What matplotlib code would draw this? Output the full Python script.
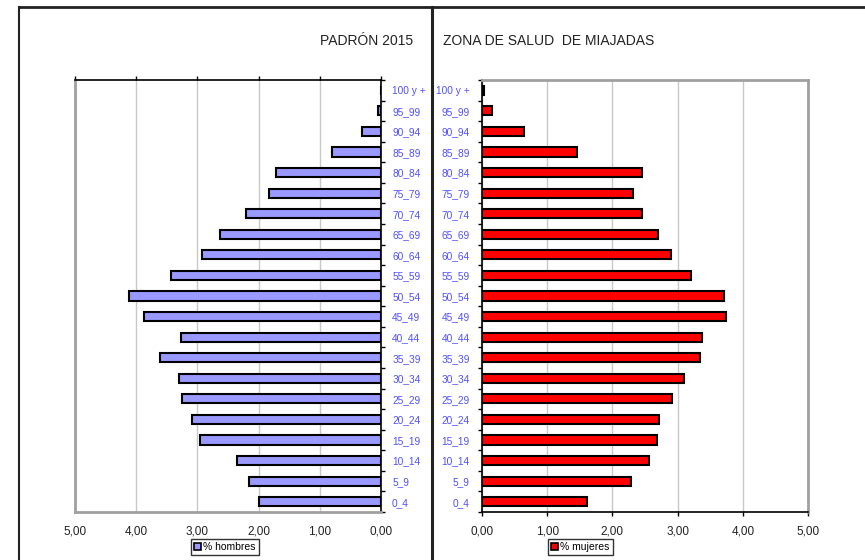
import numpy as np
import matplotlib.pyplot as plt
from matplotlib.patches import Patch
from matplotlib.ticker import FixedLocator, FuncFormatter

plt.rcParams['font.family'] = ['Liberation Sans', 'DejaVu Sans']

# Age groups, bottom to top
grupos = ["0_4", "5_9", "10_14", "15_19", "20_24", "25_29", "30_34", "35_39",
          "40_44", "45_49", "50_54", "55_59", "60_64", "65_69", "70_74",
          "75_79", "80_84", "85_89", "90_94", "95_99", "100 y +"]

# % of population
hombres = [2.00, 2.15, 2.35, 2.95, 3.09, 3.25, 3.30, 3.61, 3.27, 3.87, 4.11,
           3.43, 2.92, 2.63, 2.21, 1.83, 1.72, 0.80, 0.31, 0.05, 0.00]
mujeres = [1.61, 2.29, 2.56, 2.68, 2.72, 2.91, 3.10, 3.35, 3.38, 3.74, 3.71,
           3.20, 2.90, 2.70, 2.46, 2.32, 2.45, 1.45, 0.65, 0.16, 0.03]

x_ticks = [0, 1, 2, 3, 4, 5]

W, H = 865, 560
fig = plt.figure(figsize=(W / 100, H / 100), dpi=100)

def fx(px):
    return px / W

def fy(py):
    return 1 - py / H

# outer frames
for x0, x1, y0, y1, lw in [(19, 865, 7, 7, 2.0), (19, 19, 7, 560, 1.5),
                           (432, 432, 7, 560, 2.2)]:
    fig.add_artist(plt.Line2D([fx(x0), fx(x1)], [fy(y0), fy(y1)],
                              color='#222222', lw=lw))

ax_h = fig.add_axes([fx(75), fy(512), fx(306), 432 / H])
ax_m = fig.add_axes([fx(482), fy(512), fx(326), 432 / H])

y = np.arange(len(grupos))
label_blue = '#5050ff'
fmt = FuncFormatter(lambda v, p: f"{v:.2f}".replace('.', ','))

for ax, vals, color in [(ax_h, hombres, '#9999ff'), (ax_m, mujeres, '#ff0000')]:
    ax.barh(y, vals, height=0.45, color=color, edgecolor='black', lw=1.5,
            zorder=3)
    ax.set_ylim(-0.5, len(grupos) - 0.5)
    ax.set_axisbelow(True)
    ax.xaxis.set_major_locator(FixedLocator(x_ticks))
    ax.xaxis.set_major_formatter(fmt)
    ax.grid(axis='x', color='#c8c8c8', lw=1.0)
    ax.yaxis.set_major_locator(FixedLocator(np.arange(-0.5, len(grupos), 1)))
    ax.yaxis.set_minor_locator(FixedLocator(y))
    ax.set_yticklabels([], minor=False)
    ax.set_yticklabels(grupos, minor=True, color=label_blue, fontsize=7.3)
    ax.tick_params(axis='y', which='major', length=3, width=1, color='black',
                   direction='out')
    ax.tick_params(axis='y', which='minor', length=0)
    ax.tick_params(axis='x', labelsize=8.5, length=3, width=1, color='black',
                   pad=7, labelcolor='#222222')
    for s in ax.spines.values():
        s.set_color('#a0a0a0')
        s.set_linewidth(2)

# men: reversed axis, categories on the right
ax_h.set_xlim(5, 0)
ax_h.yaxis.tick_right()
ax_h.tick_params(axis='y', which='both', left=False, right=True)
ax_h.tick_params(axis='y', which='minor', pad=8)
for lab in ax_h.get_yticklabels(minor=True):
    lab.set_horizontalalignment('left')
ax_h.tick_params(axis='x', bottom=False, top=True, labelbottom=True,
                 labeltop=False)
for k in ['right', 'top']:
    ax_h.spines[k].set_color('black')
    ax_h.spines[k].set_linewidth(1.2)

# women
ax_m.set_xlim(0, 5)
ax_m.tick_params(axis='y', which='minor', pad=9)
for k in ['left', 'bottom']:
    ax_m.spines[k].set_color('black')
    ax_m.spines[k].set_linewidth(1.2)

fig.text(fx(413), fy(41), "PADRÓN 2015", ha='right', va='center',
         fontsize=10, color='#222222')
fig.text(fx(443), fy(41), "ZONA DE SALUD  DE MIAJADAS", ha='left',
         va='center', fontsize=10, color='#222222')

for ax, txt, color, cx in [(ax_h, "% hombres", '#9999ff', 225),
                           (ax_m, "% mujeres", '#ff0000', 580)]:
    leg = fig.legend(handles=[Patch(facecolor=color, edgecolor='black', lw=1.2)],
                     labels=[txt], loc='center', bbox_to_anchor=(fx(cx), fy(547)),
                     fontsize=7.5, frameon=True, fancybox=False, handlelength=0.7,
                     handleheight=0.7, handletextpad=0.2, borderpad=0.3,
                     borderaxespad=0)
    leg.get_frame().set_edgecolor('black')
    leg.get_frame().set_linewidth(1.0)

fig.savefig("out.png", dpi=100)
